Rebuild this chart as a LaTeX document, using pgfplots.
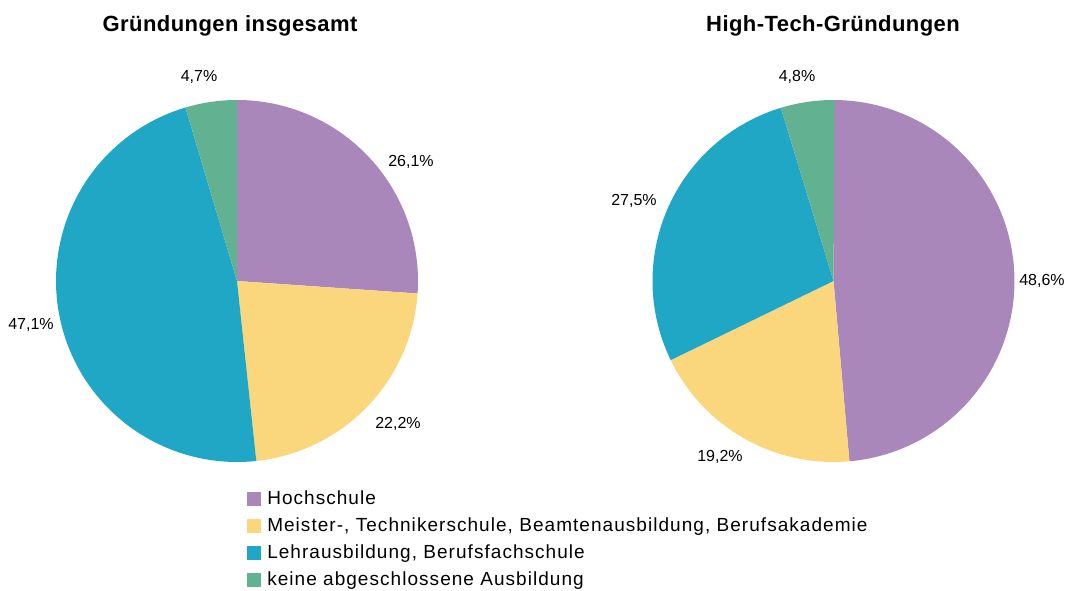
\documentclass[border=0pt]{standalone}
\usepackage{fontspec}
\setmainfont{Liberation Sans}
\newfontfamily\legfont{Liberation Sans}[LetterSpace=5.5]
\newfontfamily\titfont{Liberation Sans}[LetterSpace=2]
\newfontfamily\lblfont{Liberation Sans}
\usepackage{pgfplots}
\pgfplotsset{compat=1.18}
\definecolor{cHoch}{HTML}{AA87BA}
\definecolor{cMeis}{HTML}{FAD67D}
\definecolor{cLehr}{HTML}{21A7C6}
\definecolor{cKein}{HTML}{62B292}
% slice from cumulative percent #1 to #2, clockwise from 12 o'clock
\newcommand{\pieslice}[3]{%
  \addplot[fill=#3, draw=none, domain=#1:#2, samples=90, variable=\t]
    ({sin(3.6*\t)},{cos(3.6*\t)}) -- (axis cs:0,0) -- cycle;}
\pgfplotsset{pieaxis/.style={
  x=135.75pt, y=135.75pt, xmin=-1, xmax=1, ymin=-1, ymax=1,
  hide axis, clip=false, anchor=center}}
\begin{document}
\begin{tikzpicture}
\useasboundingbox (0,0) rectangle (804.75pt,442.5pt);
% left pie: 26.1 / 22.2 / 47.1 / 4.7
\begin{axis}[pieaxis, at={(177.75pt,231.75pt)},
  legend style={at={(0.5276,-0.0594)}, anchor=north west, draw=none, fill=none,
    inner sep=0pt, font=\legfont\fontsize{14.25pt}{16pt}\selectfont, legend cell align=left,
    nodes={inner sep=0pt, text height=15.3pt, text depth=4.95pt}},
  legend image code/.code={\fill[#1,draw=none] (0pt,-6.6pt) rectangle (10.5pt,3.9pt); \path (15pt,0pt);}]
\pieslice{0}{26.1}{cHoch}\addlegendentry{Hochschule}
\pieslice{26.1}{48.3}{cMeis}\addlegendentry{Meister-, Technikerschule, Beamtenausbildung, Berufsakademie}
\pieslice{48.3}{95.4}{cLehr}\addlegendentry{Lehrausbildung, Berufsfachschule}
\pieslice{95.4}{100}{cKein}\addlegendentry{keine abgeschlossene Ausbildung}
\end{axis}
% right pie: 48.6 / 19.2 / 27.5 / 4.8
\begin{axis}[pieaxis, at={(625.125pt,231.75pt)}]
\pieslice{0}{48.6}{cHoch}
\pieslice{48.6}{67.8}{cMeis}
\pieslice{67.8}{95.3}{cLehr}
\pieslice{95.3}{100.1}{cKein}
\end{axis}
\begin{scope}[x=0.75pt,y=0.75pt]
\begin{scope}[every node/.style={font=\lblfont\fontsize{12pt}{14pt}\selectfont, text height=0.716em, text depth=0pt, inner sep=0pt}]
\node at (199,513) {4,7\%};
\node at (411,428) {26,1\%};
\node at (398,166) {22,2\%};
\node at (31,265) {47,1\%};
\node at (797,513) {4,8\%};
\node at (634,389) {27,5\%};
\node at (1042,309) {48,6\%};
\node at (720,133) {19,2\%};
\end{scope}
\begin{scope}[every node/.style={font=\titfont\bfseries\fontsize{16.5pt}{19pt}\selectfont, text height=0.716em, text depth=0pt, inner sep=0pt}]
\node at (230,563) {Gründungen insgesamt};
\node at (833,563) {High-Tech-Gründungen};
\end{scope}
\end{scope}
\end{tikzpicture}
\end{document}
